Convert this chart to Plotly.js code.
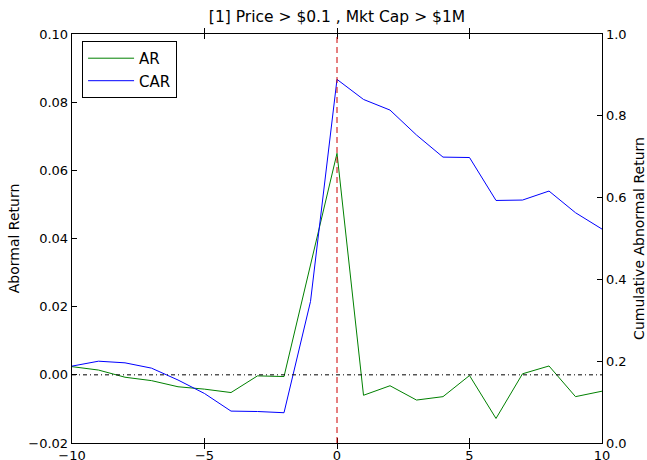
<!DOCTYPE html>
<html>
<head>
<meta charset="utf-8">
<script src="https://cdn.plot.ly/plotly-3.0.1.min.js"></script>
<style>html,body{margin:0;padding:0;background:#fff;}#chart{width:647px;height:460px;}</style>
</head>
<body>
<div id="chart"></div>
<script>
const days = [-10,-9,-8,-7,-6,-5,-4,-3,-2,-1,0,1,2,3,4,5,6,7,8,9,10];
const arValues = [0.0024,0.0014,-0.0007,-0.0017,-0.0035,-0.0042,-0.0052,-0.0003,-0.0005,0.032,0.065,
                  -0.0060,-0.0032,-0.0074,-0.0064,-0.0002,-0.0128,0.0003,0.0026,-0.0064,-0.0048];
const carValues = [0.188,0.200,0.196,0.183,0.154,0.121,0.078,0.077,0.074,0.346,0.889,
                   0.840,0.814,0.753,0.699,0.698,0.593,0.594,0.616,0.563,0.523];
const leftTicks = [-0.02,0.00,0.02,0.04,0.06,0.08,0.10];
const rightTicks = [0.0,0.2,0.4,0.6,0.8,1.0];
const xTicks = [-10,-5,0,5,10];
const titleText = "[1] Price > $0.1 , Mkt Cap > $1M";

const fam = "DejaVu Sans, sans-serif";
const tickFont = {family: fam, size: 13, color: "#000"};
const axTitleFont = {family: fam, size: 14, color: "#000"};

const traces = [
  {x: days, y: arValues, type: "scatter", mode: "lines", name: "AR",
   line: {color: "#008000", width: 1}, yaxis: "y"},
  {x: days, y: carValues, type: "scatter", mode: "lines", name: "CAR",
   line: {color: "#0000ff", width: 1}, yaxis: "y2"}
];

const axisCommon = {showgrid: false, zeroline: false, showline: true, linecolor: "#000",
  linewidth: 1.3, ticks: "inside", tickcolor: "#000", ticklen: 5, tickwidth: 1, tickfont: tickFont};

const layout = {
  width: 647, height: 460,
  margin: {l: 72, r: 45, t: 34, b: 17},
  paper_bgcolor: "#fff", plot_bgcolor: "#fff",
  font: tickFont,
  title: {text: titleText, x: 0.5, xref: "paper", y: 0.965, yref: "container", yanchor: "middle",
          font: {family: fam, size: 15.5, color: "#000"}},
  showlegend: true,
  legend: {x: 0.019, y: 0.983, xanchor: "left", yanchor: "top", bordercolor: "#000", borderwidth: 1,
           bgcolor: "#fff", font: {family: fam, size: 15, color: "#000"},
           tracegroupgap: 0, itemwidth: 46},
  xaxis: Object.assign({}, axisCommon, {range: [-10, 10], tickvals: xTicks, mirror: "allticks",
          tickformat: "d"}),
  yaxis: Object.assign({}, axisCommon, {range: [-0.02, 0.10], tickvals: leftTicks, tickformat: ".2f",
          title: {text: "Abormal Return", font: axTitleFont, standoff: 5}}),
  yaxis2: Object.assign({}, axisCommon, {range: [0, 1.0], tickvals: rightTicks, tickformat: ".1f",
          overlaying: "y", side: "right",
          title: {text: "Cumulative Abnormal Return", font: axTitleFont, standoff: 8}}),
  shapes: [
    {type: "line", xref: "x", yref: "paper", x0: 0, x1: 0, y0: 0, y1: 1,
     line: {color: "#cc0000", width: 1, dash: "6px,4px"}},
    {type: "line", xref: "paper", yref: "y", x0: 0, x1: 1, y0: 0, y1: 0,
     line: {color: "#000", width: 1, dash: "4px,3px,1px,3px"}}
  ]
};

Plotly.newPlot("chart", traces, layout, {displayModeBar: false, staticPlot: true});
</script>
</body>
</html>
